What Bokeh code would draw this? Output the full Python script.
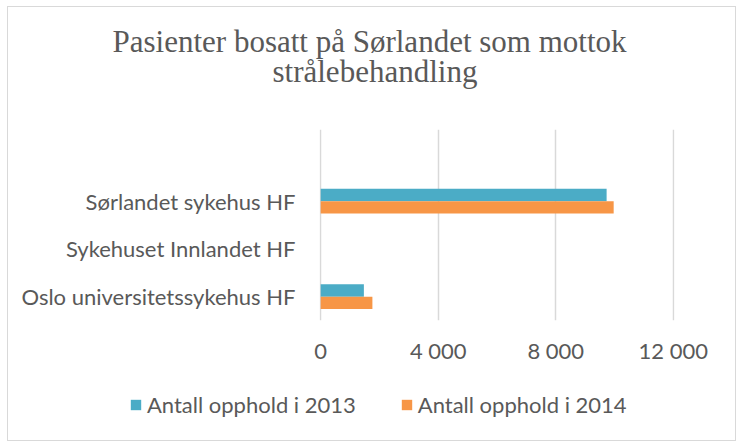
from bokeh.plotting import figure
from bokeh.layouts import column
from bokeh.models import ColumnDataSource, FactorRange, FixedTicker, Legend, LegendItem, Title, Range1d
from bokeh.transform import dodge
from bokeh.embed import file_html
from bokeh.resources import INLINE

# ---- data ----
categories = ["Oslo universitetssykehus HF", "Sykehuset Innlandet HF", "Sørlandet sykehus HF", " "]
opphold_2013 = [1470, 0, 9730, 0]
opphold_2014 = [1760, 0, 9970, 0]
series_names = ["Antall opphold i 2013", "Antall opphold i 2014"]
x_ticks = [0, 4000, 8000, 12000]
x_tick_labels = ["0", "4 000", "8 000", "12 000"]
title_lines = ["Pasienter bosatt på Sørlandet som mottok", "strålebehandling"]

TEAL = "#4BACC6"
ORANGE = "#F79646"
TXT = "#595959"
LABEL_FONT = "Lato"
colors = [TEAL, ORANGE]
value_cols = ["v2013", "v2014"]

source = ColumnDataSource(dict(cat=categories, v2013=opphold_2013, v2014=opphold_2014))

p = figure(
    frame_width=355, frame_height=191,
    y_range=FactorRange(factors=categories),
    x_range=Range1d(-40, 12040),
    output_backend="svg", toolbar_location=None,
    min_border_left=311, min_border_right=61,
    min_border_top=122, min_border_bottom=55,
)
p.outline_line_color = None
p.background_fill_color = "white"
p.border_fill_color = "white"

bar_h = 0.258
offsets = [bar_h / 2, -bar_h / 2]
for col, c, off in zip(value_cols, colors, offsets):
    p.hbar(y=dodge("cat", off, range=p.y_range), left=0, right=col, height=bar_h,
           source=source, fill_color=c, line_color=None)

# title: two lines, each as its own Title; a blank spacer sits next to the frame
p.title.text = ""
title_style = dict(align="left", text_font="Liberation Serif", text_font_size="31px",
                   text_font_style="normal", text_color=TXT)
spacer = Title(text=" ", standoff=4, **title_style)
t2 = Title(text=title_lines[1], offset=-47, standoff=0, **title_style)
t1 = Title(text=title_lines[0], offset=-207, standoff=-15, **title_style)
p.add_layout(spacer, "above")
p.add_layout(t2, "above")
p.add_layout(t1, "above")

# x axis
p.xaxis.ticker = FixedTicker(ticks=x_ticks)
p.xaxis.major_label_overrides = {t: l for t, l in zip(x_ticks, x_tick_labels)}
p.xaxis.axis_line_color = None
p.xaxis.major_tick_line_color = None
p.xaxis.minor_tick_line_color = None
p.xaxis.major_label_text_font = LABEL_FONT
p.xaxis.major_label_text_font_size = "22px"
p.xaxis.major_label_text_color = TXT
p.xaxis.major_label_standoff = 10

# y axis
p.yaxis.axis_line_color = None
p.yaxis.major_tick_line_color = None
p.yaxis.minor_tick_line_color = None
p.yaxis.major_label_text_font = LABEL_FONT
p.yaxis.major_label_text_font_size = "22px"
p.yaxis.major_label_text_color = TXT
p.yaxis.major_label_standoff = 18

# grid
p.xgrid.ticker = FixedTicker(ticks=x_ticks)
p.xgrid.grid_line_color = "#d9d9d9"
p.xgrid.grid_line_width = 1.5
p.ygrid.grid_line_color = None

# legend strip: own small figure (so the legend is not clipped by the main frame);
# its bars use the same data but lie outside its view, only the legend is seen
lf = figure(frame_width=727, frame_height=65, x_range=Range1d(-2, -1),
            y_range=FactorRange(factors=categories),
            x_axis_type=None, y_axis_type=None,
            output_backend="svg", toolbar_location=None,
            min_border_left=0, min_border_right=0, min_border_top=0, min_border_bottom=0)
lf.outline_line_color = None
lf.grid.grid_line_color = None
lf.background_fill_color = "white"
lf.border_fill_color = "white"
legend_renderers = [lf.hbar(y=dodge("cat", off, range=lf.y_range), left=0, right=col,
                            height=bar_h, source=source, fill_color=c, line_color=None)
                    for col, c, off in zip(value_cols, colors, offsets)]

legend = Legend(
    items=[LegendItem(label=n, renderers=[r]) for n, r in zip(series_names, legend_renderers)],
    orientation="horizontal",
    location=(121, 22),
    glyph_width=13, glyph_height=13,
    label_standoff=5, spacing=44,
    padding=0, margin=0,
    border_line_color=None, background_fill_alpha=0,
    label_text_font=LABEL_FONT, label_text_font_size="22px", label_text_color=TXT,
)
lf.add_layout(legend, "center")

layout = column(p, lf, spacing=0)
layout.margin = (6, 0, 0, 7)
layout.styles = {"border": "1px solid #d9d9d9", "box-sizing": "content-box",
                 "background-color": "white"}

open("out.html", "w").write(file_html(layout, INLINE))
